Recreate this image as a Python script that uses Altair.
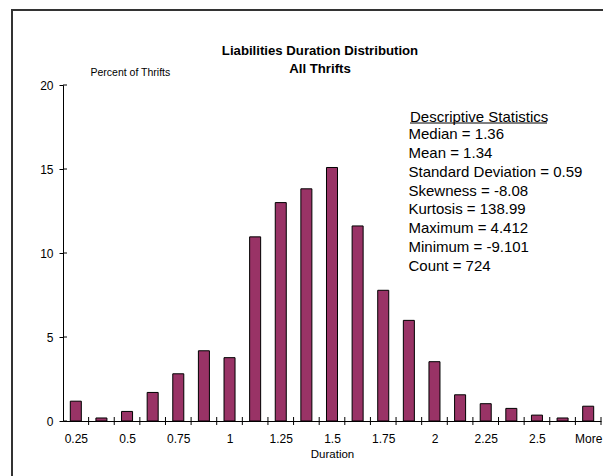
import json
import altair as alt
import pandas as pd

# Histogram bins (Duration) and share of thrifts in each bin
categories = ["0.25", "0.375", "0.5", "0.625", "0.75", "0.875", "1", "1.125",
              "1.25", "1.375", "1.5", "1.625", "1.75", "1.875", "2", "2.125",
              "2.25", "2.375", "2.5", "2.625", "More"]
percent = [1.18, 0.18, 0.57, 1.70, 2.81, 4.18, 3.77, 10.96, 13.0, 13.82, 15.09,
           11.61, 7.78, 5.99, 3.53, 1.56, 1.03, 0.75, 0.35, 0.18, 0.88]
y_ticks = [0, 5, 10, 15, 20]

title_lines = ["Liabilities Duration Distribution", "All Thrifts"]
stats_header = "Descriptive Statistics"
stats_lines = ["Median = 1.36", "Mean = 1.34", "Standard Deviation = 0.59",
               "Skewness = -8.08", "Kurtosis = 138.99", "Maximum = 4.412",
               "Minimum = -9.101", "Count = 724"]

FONT = "Liberation Sans"
W, H = 538, 336
n = len(categories)

bars_df = pd.DataFrame({"idx": list(range(n)), "bin": categories, "pct": percent})
bounds_df = pd.DataFrame({"b": list(range(1, n + 1))})
yt_df = pd.DataFrame({"v": y_ticks})
one = pd.DataFrame({"k": [0]})

xscale = alt.Scale(domain=[0, n], nice=False, zero=False)
yscale = alt.Scale(domain=[0, 20], nice=False)

label_expr = json.dumps(categories) + "[floor(datum.value)]"

x_axis = alt.Axis(values=[i + 0.5 for i in range(0, n, 2)],
                  labelExpr=label_expr, ticks=False, grid=False,
                  domainColor="black", domainWidth=1,
                  labelFont=FONT, labelFontSize=12, labelColor="black",
                  labelPadding=12, labelFlush=False,
                  titleFont=FONT, titleFontSize=11.5, titleFontWeight="normal",
                  titleColor="black", titlePadding=4)
y_axis = alt.Axis(values=y_ticks, grid=False, tickSize=4, tickColor="black",
                  domainColor="black", domainWidth=1,
                  labelFont=FONT, labelFontSize=12, labelColor="black",
                  labelPadding=6,
                  titleAngle=0, titleAlign="left",
                  titleBaseline="middle", titleX=27, titleY=-13,
                  titleFont=FONT, titleFontSize=10.5, titleFontWeight="normal",
                  titleColor="black")

bars = alt.Chart(bars_df).transform_calculate(
    lo="datum.idx + 0.285", hi="datum.idx + 0.715"
).mark_rect(color="#993366", stroke="black", strokeWidth=1).encode(
    x=alt.X("lo:Q", scale=xscale, title="Duration", axis=x_axis),
    x2="hi:Q",
    y=alt.Y("pct:Q", scale=yscale, title="Percent of Thrifts", axis=y_axis),
    y2=alt.datum(0),
)

# category boundary ticks crossing the x axis
x_ticks = alt.Chart(bounds_df).mark_rule(color="black", strokeWidth=1).encode(
    x=alt.X("b:Q", scale=xscale, title="Duration", axis=x_axis),
    y=alt.value(H - 4), y2=alt.value(H + 4),
)

# inner half of the y axis ticks
y_inner = alt.Chart(yt_df).mark_rule(color="black", strokeWidth=1).encode(
    y=alt.Y("v:Q", scale=yscale, title="Percent of Thrifts", axis=y_axis),
    x=alt.value(0), x2=alt.value(4),
)

# outer chart border: top and left edges (the others fall outside the canvas)
frame_top = alt.Chart(one).mark_rule(color="#333333", strokeWidth=2).encode(
    x=alt.value(-52), x2=alt.value(W + 2), y=alt.value(-75)
)
frame_left = alt.Chart(one).mark_rule(color="#333333", strokeWidth=2).encode(
    x=alt.value(-51), y=alt.value(-76), y2=alt.value(H + 55)
)

title = alt.Chart(one).mark_text(
    text=title_lines, font=FONT, fontSize=13.2, fontWeight="bold", align="center",
    baseline="middle", lineHeight=18.3, color="black"
).encode(x=alt.value(257), y=alt.value(-34.3))

header = alt.Chart(one).mark_text(
    text=stats_header, font=FONT, fontSize=15, align="left", baseline="middle",
    color="black"
).encode(x=alt.value(347), y=alt.value(31.7))

underline = alt.Chart(one).mark_rule(color="black", strokeWidth=1).encode(
    x=alt.value(347), x2=alt.value(484), y=alt.value(38)
)

body = alt.Chart(one).mark_text(
    text=stats_lines, font=FONT, fontSize=15, align="left", baseline="middle",
    lineHeight=18.77, color="black"
).encode(x=alt.value(345.5), y=alt.value(49.3))

chart = alt.layer(bars, x_ticks, y_inner, frame_top, frame_left, title, header,
                  underline, body).properties(
    width=W, height=H,
    background="white",
    autosize=alt.AutoSizeParams(type="none"),
    padding={"left": 63, "top": 85, "right": 2, "bottom": 55},
).configure_view(stroke=None)

chart.save("out.html", embed_options={"renderer": "svg", "actions": False})
